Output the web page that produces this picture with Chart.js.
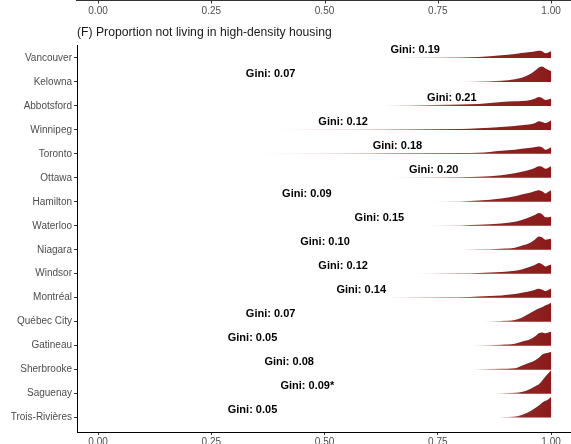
<!DOCTYPE html>
<html>
<head>
<meta charset="utf-8">
<script src="https://cdn.jsdelivr.net/npm/chart.js@4.4.1/dist/chart.umd.min.js"></script>
<style>
  body { margin: 0; background: #fff; }
</style>
</head>
<body>
<canvas id="myChart" width="571" height="444"></canvas>
<script>
const cities = ['Vancouver', 'Kelowna', 'Abbotsford', 'Winnipeg', 'Toronto', 'Ottawa', 'Hamilton', 'Waterloo',
  'Niagara', 'Windsor', 'Montréal', 'Québec City', 'Gatineau', 'Sherbrooke', 'Saguenay', 'Trois-Rivières'];
const giniText = ['Gini: 0.19', 'Gini: 0.07', 'Gini: 0.21', 'Gini: 0.12', 'Gini: 0.18', 'Gini: 0.20', 'Gini: 0.09', 'Gini: 0.15',
  'Gini: 0.10', 'Gini: 0.12', 'Gini: 0.14', 'Gini: 0.07', 'Gini: 0.05', 'Gini: 0.08', 'Gini: 0.09*', 'Gini: 0.05'];
const giniPos = [0.700, 0.381, 0.781, 0.541, 0.661, 0.741, 0.461, 0.621, 0.501, 0.541, 0.581, 0.381, 0.341, 0.422, 0.462, 0.341];
const tailStart = [0.62, 0.79, 0.61, 0.37, 0.30, 0.62, 0.67, 0.65, 0.78, 0.68, 0.47, 0.84, 0.81, 0.82, 0.87, 0.87];
const tickValues = [0, 0.25, 0.5, 0.75, 1];

// density along a shared grid of x values
const gridX = [0.80, 0.84, 0.89, 0.92, 0.935, 0.955, 0.965, 0.973, 0.98, 0.988, 0.994, 1.0];
const vancouver  = [0.5, 1.0, 2.8, 4.0, 5.0, 6.0, 6.8, 7.3, 6.8, 4.8, 5.5, 6.7];
const kelowna    = [0.1, 0.4, 1.2, 2.8, 4.2, 8.3, 11.5, 14.5, 15.5, 13.5, 12.0, 11.0];
const abbotsford = [1.5, 2.0, 4.0, 4.6, 5.0, 6.0, 7.5, 9.0, 8.0, 6.0, 6.5, 7.3];
const winnipeg   = [0.8, 1.7, 3.0, 4.0, 4.7, 5.7, 7.0, 8.7, 8.0, 7.0, 8.0, 9.3];
const toronto    = [0.8, 1.0, 3.0, 4.0, 5.0, 6.0, 6.8, 7.3, 6.5, 4.0, 5.0, 6.7];
const ottawa     = [0.5, 1.0, 2.7, 4.5, 6.0, 8.3, 10.0, 11.5, 11.0, 9.0, 10.0, 11.7];
const hamilton   = [0.4, 1.3, 3.3, 5.5, 7.3, 9.3, 10.8, 11.7, 10.5, 8.3, 10.0, 11.7];
const waterloo   = [0.4, 1.0, 2.3, 4.0, 5.7, 9.0, 11.0, 12.7, 11.5, 8.5, 8.5, 9.0];
const niagara    = [0.1, 0.4, 1.0, 2.0, 4.0, 7.3, 10.5, 13.3, 12.5, 10.0, 10.5, 11.0];
const windsor    = [0.6, 0.8, 1.7, 3.0, 4.3, 7.3, 9.0, 10.7, 9.5, 7.3, 8.3, 9.3];
const montreal   = [0.5, 1.3, 2.3, 3.7, 5.0, 6.7, 8.0, 9.0, 8.0, 6.7, 7.8, 9.0];
const quebec     = [0, 0.1, 0.7, 1.7, 4.0, 9.0, 11.5, 13.3, 14.5, 16.5, 17.5, 19.0];
const gatineau   = [0, 0.3, 1.0, 2.0, 4.0, 6.7, 9.5, 12.5, 13.3, 12.5, 13.3, 14.0];
const sherbrooke = [0, 0.4, 0.8, 1.3, 4.0, 7.3, 9.5, 12.0, 15.0, 16.5, 17.0, 17.7];
const saguenay   = [0, 0, 0.3, 0.8, 1.7, 5.0, 7.5, 9.5, 13.0, 17.5, 20.5, 23.3];
const troisRiv   = [0, 0, 0.3, 1.0, 2.7, 6.7, 9.5, 12.0, 15.0, 16.8, 18.5, 20.7];
const densities = [vancouver, kelowna, abbotsford, winnipeg, toronto, ottawa, hamilton, waterloo,
  niagara, windsor, montreal, quebec, gatineau, sherbrooke, saguenay, troisRiv];

const ridgeScale = 1 / 24;
const red = '139, 27, 27';
const font = 'Liberation Sans, Arial, Helvetica, sans-serif';

function ridgePoints(i) {
  const pts = [{ x: tailStart[i], y: i }];
  gridX.forEach((x, k) => {
    if (x > tailStart[i]) pts.push({ x: x, y: i - densities[i][k] * ridgeScale });
  });
  return pts;
}

const datasets = cities.map((city, i) => ({
  label: city,
  data: ridgePoints(i),
  fill: { value: i },
  borderWidth: 0,
  pointRadius: 0,
  cubicInterpolationMode: 'monotone',
  backgroundColor: function(context) {
    const chart = context.chart;
    if (!chart.chartArea) return 'rgb(' + red + ')';
    const xs = chart.scales.x;
    const g = chart.ctx.createLinearGradient(xs.getPixelForValue(tailStart[i]), 0, xs.getPixelForValue(1), 0);
    g.addColorStop(0, 'rgba(' + red + ', 0)');
    g.addColorStop(0.5, 'rgba(' + red + ', 0.95)');
    g.addColorStop(1, 'rgba(' + red + ', 1)');
    return g;
  }
}));

// gini labels, title and the axis of the panel above
const decor = {
  id: 'decor',
  afterDatasetsDraw(chart) {
    const ctx = chart.ctx;
    const xs = chart.scales.x, ys = chart.scales.y;
    ctx.save();
    ctx.fillStyle = '#000';
    ctx.font = 'bold 11px ' + font;
    ctx.textAlign = 'center';
    ctx.textBaseline = 'middle';
    giniText.forEach((t, i) => {
      ctx.fillText(t, xs.getPixelForValue(giniPos[i]), ys.getPixelForValue(i - 0.33));
    });

    ctx.fillStyle = '#1a1a1a';
    ctx.font = '12.2px ' + font;
    ctx.textAlign = 'left';
    ctx.fillText('(F) Proportion not living in high-density housing', chart.chartArea.left, 33);

    ctx.strokeStyle = '#333';
    ctx.lineWidth = 1;
    ctx.beginPath();
    ctx.moveTo(chart.chartArea.left - 1, 0.5);
    ctx.lineTo(chart.width, 0.5);
    tickValues.forEach(v => {
      const px = Math.round(xs.getPixelForValue(v)) + 0.5;
      ctx.moveTo(px, 0);
      ctx.lineTo(px, 3.5);
    });
    ctx.stroke();
    ctx.fillStyle = '#4d4d4d';
    ctx.font = '10px ' + font;
    ctx.textAlign = 'center';
    tickValues.forEach(v => ctx.fillText(v.toFixed(2), xs.getPixelForValue(v), 11.5));
    ctx.restore();
  }
};

new Chart(document.getElementById('myChart').getContext('2d'), {
  type: 'line',
  data: { datasets: datasets },
  plugins: [decor],
  options: {
    responsive: false,
    animation: false,
    layout: { padding: { top: 45, left: 0, right: 0, bottom: 0 } },
    plugins: { legend: { display: false }, tooltip: { enabled: false } },
    scales: {
      x: {
        type: 'linear',
        min: -0.0464,
        max: 1.044,
        afterBuildTicks: s => { s.ticks = tickValues.map(v => ({ value: v })); },
        afterFit: s => { s.height = 12; },
        ticks: { callback: v => v.toFixed(2), color: '#4d4d4d', font: { size: 10, family: font }, padding: 1, maxRotation: 0 },
        grid: { drawOnChartArea: false, tickLength: 3, color: '#333' },
        border: { color: '#000', width: 1 }
      },
      y: {
        type: 'linear',
        reverse: true,
        min: -0.54,
        max: 15.6,
        afterBuildTicks: s => { s.ticks = cities.map((c, i) => ({ value: i })); },
        afterFit: s => { s.width = 77; },
        ticks: { callback: v => cities[v], color: '#4d4d4d', font: { size: 10, family: font }, padding: 2, autoSkip: false },
        grid: { drawOnChartArea: false, tickLength: 3, color: '#333' },
        border: { color: '#000', width: 1 }
      }
    }
  }
});
</script>
</body>
</html>
